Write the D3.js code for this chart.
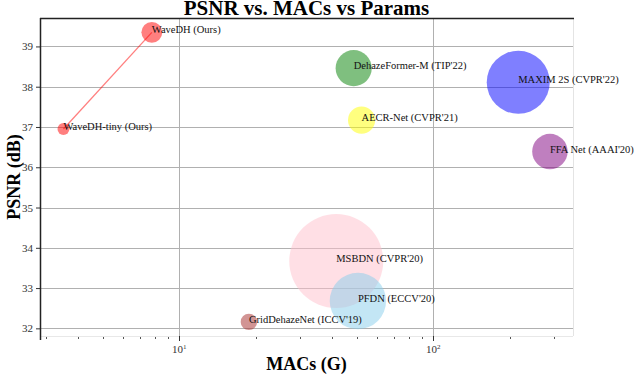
<!DOCTYPE html>
<html>
<head>
<meta charset="utf-8">
<script src="https://cdn.jsdelivr.net/npm/d3@7"></script>
<style>
  body { margin: 0; background: #fff; }
  svg text { font-family: "Liberation Serif", "DejaVu Serif", serif; }
</style>
</head>
<body>
<svg id="chart"></svg>
<script>
// data
var models = ["WaveDH (Ours)", "WaveDH-tiny (Ours)", "DehazeFormer-M (TIP'22)", "MAXIM 2S (CVPR'22)",
              "AECR-Net (CVPR'21)", "FFA Net (AAAI'20)", "MSBDN (CVPR'20)", "PFDN (ECCV'20)", "GridDehazeNet (ICCV'19)"];
var macs = [7.8, 3.5, 48.6, 216, 52.2, 287.8, 41.5, 50.5, 18.8];      // G
var psnr = [39.35, 36.95, 38.46, 38.11, 37.17, 36.39, 33.67, 32.68, 32.16]; // dB
var params = [1.55, 0.5, 4.63, 14.1, 2.61, 4.46, 31.35, 11.27, 0.956];     // M
var colors = ["red", "red", "green", "blue", "yellow", "purple", "pink", "skyblue", "brown"];
var yTicks = [32, 33, 34, 35, 36, 37, 38, 39];

var width = 640, height = 374;
// note: "top" is taken by window.top, so use plot* names
var plotLeft = 40, plotRight = 573, plotTop = 18, plotBottom = 336;

var svg = d3.select("#chart").attr("width", width).attr("height", height);

var x = d3.scaleLog().domain([2.83, 354.8]).range([plotLeft, plotRight]);
var y = d3.scaleLinear().domain([31.81, 39.706]).range([plotBottom, plotTop]);
var r = d3.scaleSqrt().domain([0, 31.35]).range([0, 47]);

var rows = models.map(function (m, i) {
    return {name: m, macs: macs[i], psnr: psnr[i], params: params[i], color: colors[i]};
});

//grid lines
var grid = svg.append("g");
grid.selectAll(".hgrid").data(yTicks).enter().append("line")
    .attr("x1", plotLeft).attr("x2", plotRight)
    .attr("y1", d => Math.round(y(d)) + 0.5).attr("y2", d => Math.round(y(d)) + 0.5)
    .attr("stroke", "#b0b0b0").attr("stroke-width", 1);
grid.selectAll(".vgrid").data([10, 100]).enter().append("line")
    .attr("x1", d => Math.round(x(d)) + 0.5).attr("x2", d => Math.round(x(d)) + 0.5)
    .attr("y1", plotTop).attr("y2", plotBottom)
    .attr("stroke", "#b0b0b0").attr("stroke-width", 1);

//light right / bottom frame
svg.append("line").attr("x1", plotRight + 0.5).attr("x2", plotRight + 0.5).attr("y1", plotTop).attr("y2", plotBottom)
    .attr("stroke", "#e4e4e4");
svg.append("line").attr("x1", plotLeft).attr("x2", plotRight).attr("y1", plotBottom + 0.5).attr("y2", plotBottom + 0.5)
    .attr("stroke", "#e8e8e8");

//line between our two models
svg.append("line")
    .attr("x1", x(macs[1])).attr("y1", y(psnr[1]))
    .attr("x2", x(macs[0])).attr("y2", y(psnr[0]))
    .attr("stroke", "red").attr("stroke-opacity", 0.5).attr("stroke-width", 1.3);

//bubbles
svg.append("g").selectAll("circle").data(rows).enter().append("circle")
    .attr("cx", d => x(d.macs))
    .attr("cy", d => y(d.psnr))
    .attr("r", d => r(d.params))
    .attr("fill", d => d.color)
    .attr("fill-opacity", 0.5);

//labels
svg.append("g").selectAll("text").data(rows).enter().append("text")
    .attr("x", d => x(d.macs))
    .attr("y", d => y(d.psnr) + 1)
    .attr("font-size", "10.5px")
    .attr("fill", "#111")
    .text(d => d.name);

//y axis
var yAxis = svg.append("g").attr("transform", "translate(" + plotLeft + ",0)")
    .call(d3.axisLeft(y).tickValues(yTicks).tickSize(4).tickPadding(3).tickFormat(d3.format("d")));
yAxis.select(".domain").remove();
yAxis.selectAll("line").attr("stroke", "#333");
yAxis.selectAll("text").attr("font-size", "11px").attr("fill", "#333")
    .attr("font-family", "Liberation Serif");

//x axis: majors and minors
var minor = [3, 4, 5, 6, 7, 8, 9, 20, 30, 40, 50, 60, 70, 80, 90, 200, 300];
var xAxis = svg.append("g").attr("transform", "translate(0," + plotBottom + ")");
xAxis.selectAll(".minor").data(minor).enter().append("line")
    .attr("x1", d => Math.round(x(d)) + 0.5).attr("x2", d => Math.round(x(d)) + 0.5)
    .attr("y1", 1).attr("y2", 3).attr("stroke", "#555");
xAxis.selectAll(".major").data([10, 100]).enter().append("line")
    .attr("x1", d => Math.round(x(d)) + 0.5).attr("x2", d => Math.round(x(d)) + 0.5)
    .attr("y1", 0).attr("y2", 5).attr("stroke", "#333");
var majLab = xAxis.selectAll(".lab").data([1, 2]).enter().append("text")
    .attr("x", d => x(Math.pow(10, d)))
    .attr("y", 17)
    .attr("text-anchor", "middle")
    .attr("font-size", "11px")
    .attr("fill", "#333");
majLab.append("tspan").text("10");
majLab.append("tspan").attr("dy", -4).attr("font-size", "7px").text(d => d);

//dark left / top spines
svg.append("line").attr("x1", plotLeft + 0.5).attr("x2", plotLeft + 0.5).attr("y1", plotTop).attr("y2", plotBottom + 4)
    .attr("stroke", "#222").attr("stroke-width", 1.5);
svg.append("line").attr("x1", plotLeft).attr("x2", plotRight + 1).attr("y1", plotTop + 0.5).attr("y2", plotTop + 0.5)
    .attr("stroke", "#222").attr("stroke-width", 1.5);

//titles
svg.append("text").attr("x", (plotLeft + plotRight) / 2).attr("y", 15)
    .attr("text-anchor", "middle").attr("font-size", "21px").attr("font-weight", "bold")
    .text("PSNR vs. MACs vs Params");
svg.append("text").attr("x", (plotLeft + plotRight) / 2).attr("y", 370)
    .attr("text-anchor", "middle").attr("font-size", "18px").attr("font-weight", "bold")
    .text("MACs (G)");
svg.append("text").attr("transform", "translate(20," + (plotTop + plotBottom) / 2 + ") rotate(-90)")
    .attr("text-anchor", "middle").attr("font-size", "18px").attr("font-weight", "bold")
    .text("PSNR (dB)");
</script>
</body>
</html>
